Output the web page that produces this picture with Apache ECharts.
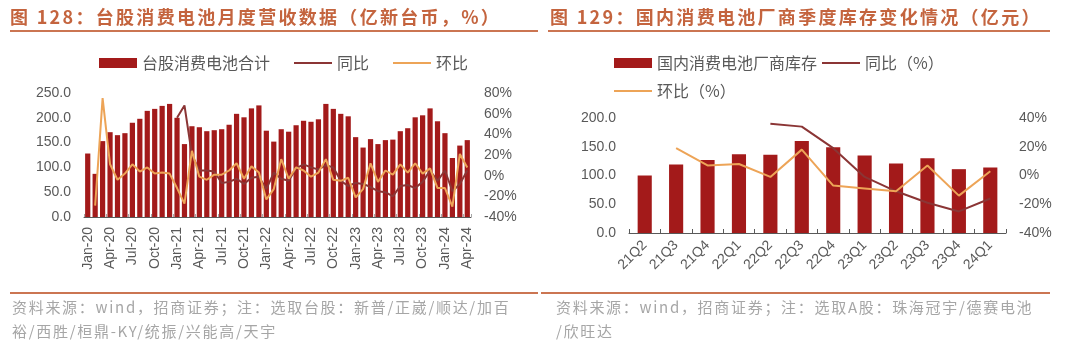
<!DOCTYPE html>
<html>
<head>
<meta charset="utf-8">
<script src="https://cdn.jsdelivr.net/npm/echarts@6/dist/echarts.min.js"></script>
<style>
  html, body { margin: 0; padding: 0; background: #fff; }
  #wrap { position: relative; width: 1080px; height: 346px; overflow: hidden; background: #fff; }
  #chart { position: absolute; left: 0; top: 0; width: 1080px; height: 346px; }
  .title {
    position: absolute; top: 4px; white-space: nowrap; line-height: 24px;
    font-family: "Noto Sans CJK SC", sans-serif; font-weight: bold;
    font-size: 18px; letter-spacing: 2.3px; color: #C4643E;
  }
  .rule { position: absolute; height: 2.5px; background: #CB7552; }
  .note {
    position: absolute; top: 295px; white-space: nowrap; line-height: 24px;
    font-family: "Noto Sans CJK SC", sans-serif; font-size: 15px;
    letter-spacing: 1.7px; color: #A6A6A6;
  }
</style>
</head>
<body>
<div id="wrap">
  <div id="chart"></div>
  <div class="title" style="left:10px;">图 128：台股消费电池月度营收数据（亿新台币，%）</div>
  <div class="title" style="left:550px;">图 129：国内消费电池厂商季度库存变化情况（亿元）</div>
  <div class="rule" style="left:10px;width:528px;top:29.5px;"></div>
  <div class="rule" style="left:548px;width:502px;top:29.5px;"></div>
  <div class="rule" style="left:10px;width:528px;top:292px;height:2px;"></div>
  <div class="rule" style="left:541px;width:509px;top:292px;height:2px;"></div>
  <div class="note" style="left:12px;">资料来源：wind，招商证券；注：选取台股：新普/正崴/顺达/加百<br>裕/西胜/桓鼎-KY/统振/兴能高/天宇</div>
  <div class="note" style="left:556px;">资料来源：wind，招商证券；注：选取A股：珠海冠宇/德赛电池<br>/欣旺达</div>
</div>
<script>
// Monthly revenue of Taiwan-listed consumer battery makers (100m TWD) and growth rates (%)
const months = [
  'Jan-20','Feb-20','Mar-20','Apr-20','May-20','Jun-20','Jul-20','Aug-20','Sep-20','Oct-20','Nov-20','Dec-20',
  'Jan-21','Feb-21','Mar-21','Apr-21','May-21','Jun-21','Jul-21','Aug-21','Sep-21','Oct-21','Nov-21','Dec-21',
  'Jan-22','Feb-22','Mar-22','Apr-22','May-22','Jun-22','Jul-22','Aug-22','Sep-22','Oct-22','Nov-22','Dec-22',
  'Jan-23','Feb-23','Mar-23','Apr-23','May-23','Jun-23','Jul-23','Aug-23','Sep-23','Oct-23','Nov-23','Dec-23',
  'Jan-24','Feb-24','Mar-24','Apr-24'
];
const revenue = [
  128, 87, 153, 171, 165, 169, 190, 198, 214, 218, 224, 228,
  200, 147, 183, 181, 173, 175, 177, 186, 208, 201, 219, 225,
  174, 152, 177, 172, 185, 194, 192, 197, 228, 218, 208, 203,
  161, 140, 157, 147, 155, 156, 173, 179, 201, 205, 219, 193,
  169, 119, 144, 155
];
const revenueYoY = [
  null, null, null, null, null, null, null, null, null, null, null, null,
  56, 68, 20, 5, 5, 4, -7, -6, -3, -8, -2, -1,
  -13, 3, -3, -5, 7, 11, 8, 6, 10, 8, -5, -10,
  -7, -8, -11, -15, -16, -20, -10, -9, -12, -6, 5, -5,
  5, -15, -8, 5
];
const revenueMoM = [
  null, -29, 75, 11, -4, 2, 11, 4, 8, 2, 3, 2,
  -12, -27, 24, -1, -4, 1, 1, 5, 12, -3, 9, 3,
  -23, -13, 16, -3, 8, 5, -1, 3, 16, -4, -5, -2,
  -21, -13, 12, -6, 5, 1, 11, 3, 12, 2, 7, -12,
  -12, -30, 21, 8
];
const revenueTicks = { min: 0, max: 250, interval: 50 };
const revenuePctTicks = { min: -40, max: 80, interval: 20 };

// Quarterly inventory of domestic consumer battery makers (100m CNY) and growth rates (%)
const quarters = ['21Q2','21Q3','21Q4','22Q1','22Q2','22Q3','22Q4','23Q1','23Q2','23Q3','23Q4','24Q1'];
const inventory = [100, 119, 127, 137, 136, 160, 149, 135, 121, 130, 111, 114];
const inventoryYoY = [null, null, null, null, 36, 34, 19, -1, -11, -19, -25, -16];
const inventoryQoQ = [null, 19, 7, 8, -1, 18, -7, -9, -11, 7, -14, 3];
const inventoryTicks = { min: 0, max: 200, interval: 50 };
const inventoryPctTicks = { min: -40, max: 40, interval: 20 };

const BAR = '#A31A1A';
const YOY = '#8B3535';
const MOM = '#EDA457';
const LABEL = '#595959';
const NUM_FONT = 'Liberation Sans, Arial, sans-serif';
const CJK_FONT = 'Noto Sans CJK SC, sans-serif';
// plain stroke used as the legend key of a line series
const LINE_KEY = 'path://M0,0 L38,0 L38,2 L0,2 Z';

const chart = echarts.init(document.getElementById('chart'), null, { renderer: 'canvas' });

const valueAxis = (gridIndex, ticks, fmt, pos) => ({
  type: 'value', gridIndex, position: pos,
  min: ticks.min, max: ticks.max, interval: ticks.interval,
  axisLine: { show: false }, axisTick: { show: false }, splitLine: { show: false },
  axisLabel: { formatter: fmt, color: LABEL, fontSize: 14, fontFamily: NUM_FONT, margin: 13 }
});

const legendText = { color: LABEL, fontSize: 16, fontFamily: CJK_FONT };

chart.setOption({
  animation: false,
  backgroundColor: 'transparent',
  legend: [
    {
      left: 94, top: 50, itemWidth: 38, itemHeight: 10, itemGap: 24,
      textStyle: legendText,
      data: [
        { name: '台股消费电池合计', icon: 'rect' },
        { name: '同比', icon: LINE_KEY },
        { name: '环比', icon: LINE_KEY }
      ]
    },
    {
      left: 609, top: 50, itemWidth: 38, itemHeight: 10, itemGap: 5,
      textStyle: legendText,
      data: [
        { name: '国内消费电池厂商库存', icon: 'rect' },
        { name: '同比（%）', icon: LINE_KEY }
      ]
    },
    {
      left: 609, top: 78, itemWidth: 38, itemHeight: 10, itemGap: 5,
      textStyle: legendText,
      data: [{ name: '环比（%）', icon: LINE_KEY }]
    }
  ],
  grid: [
    { left: 84, top: 93, width: 387, height: 124 },
    { left: 629, top: 118, width: 377, height: 115 }
  ],
  xAxis: [
    {
      type: 'category', gridIndex: 0, data: months, boundaryGap: true,
      axisLine: { lineStyle: { color: LABEL, width: 1 } },
      axisTick: { show: true, interval: 2, inside: true, length: 3, lineStyle: { color: '#A6A6A6' } },
      axisLabel: { interval: 2, rotate: 90, color: LABEL, fontSize: 14, fontFamily: NUM_FONT, margin: 10 }
    },
    {
      type: 'category', gridIndex: 1, data: quarters, boundaryGap: true,
      axisLine: { lineStyle: { color: LABEL, width: 1 } },
      axisTick: { show: true, inside: true, length: 4, lineStyle: { color: LABEL } },
      axisLabel: { interval: 0, rotate: 45, color: LABEL, fontSize: 14, fontFamily: NUM_FONT, margin: 10 }
    }
  ],
  yAxis: [
    valueAxis(0, revenueTicks, v => v.toFixed(1), 'left'),
    valueAxis(0, revenuePctTicks, v => v + '%', 'right'),
    valueAxis(1, inventoryTicks, v => v.toFixed(1), 'left'),
    valueAxis(1, inventoryPctTicks, v => v + '%', 'right')
  ],
  series: [
    {
      name: '台股消费电池合计', type: 'bar', xAxisIndex: 0, yAxisIndex: 0,
      data: revenue, barWidth: '70%', itemStyle: { color: BAR }
    },
    {
      name: '同比', type: 'line', xAxisIndex: 0, yAxisIndex: 1,
      data: revenueYoY, symbol: 'none', lineStyle: { color: YOY, width: 2 }, itemStyle: { color: YOY }
    },
    {
      name: '环比', type: 'line', xAxisIndex: 0, yAxisIndex: 1,
      data: revenueMoM, symbol: 'none', lineStyle: { color: MOM, width: 2 }, itemStyle: { color: MOM }
    },
    {
      name: '国内消费电池厂商库存', type: 'bar', xAxisIndex: 1, yAxisIndex: 2,
      data: inventory, barWidth: '45%', itemStyle: { color: BAR }
    },
    {
      name: '同比（%）', type: 'line', xAxisIndex: 1, yAxisIndex: 3,
      data: inventoryYoY, symbol: 'none', lineStyle: { color: YOY, width: 2 }, itemStyle: { color: YOY }
    },
    {
      name: '环比（%）', type: 'line', xAxisIndex: 1, yAxisIndex: 3,
      data: inventoryQoQ, symbol: 'none', lineStyle: { color: MOM, width: 2 }, itemStyle: { color: MOM }
    }
  ]
});
</script>
</body>
</html>
